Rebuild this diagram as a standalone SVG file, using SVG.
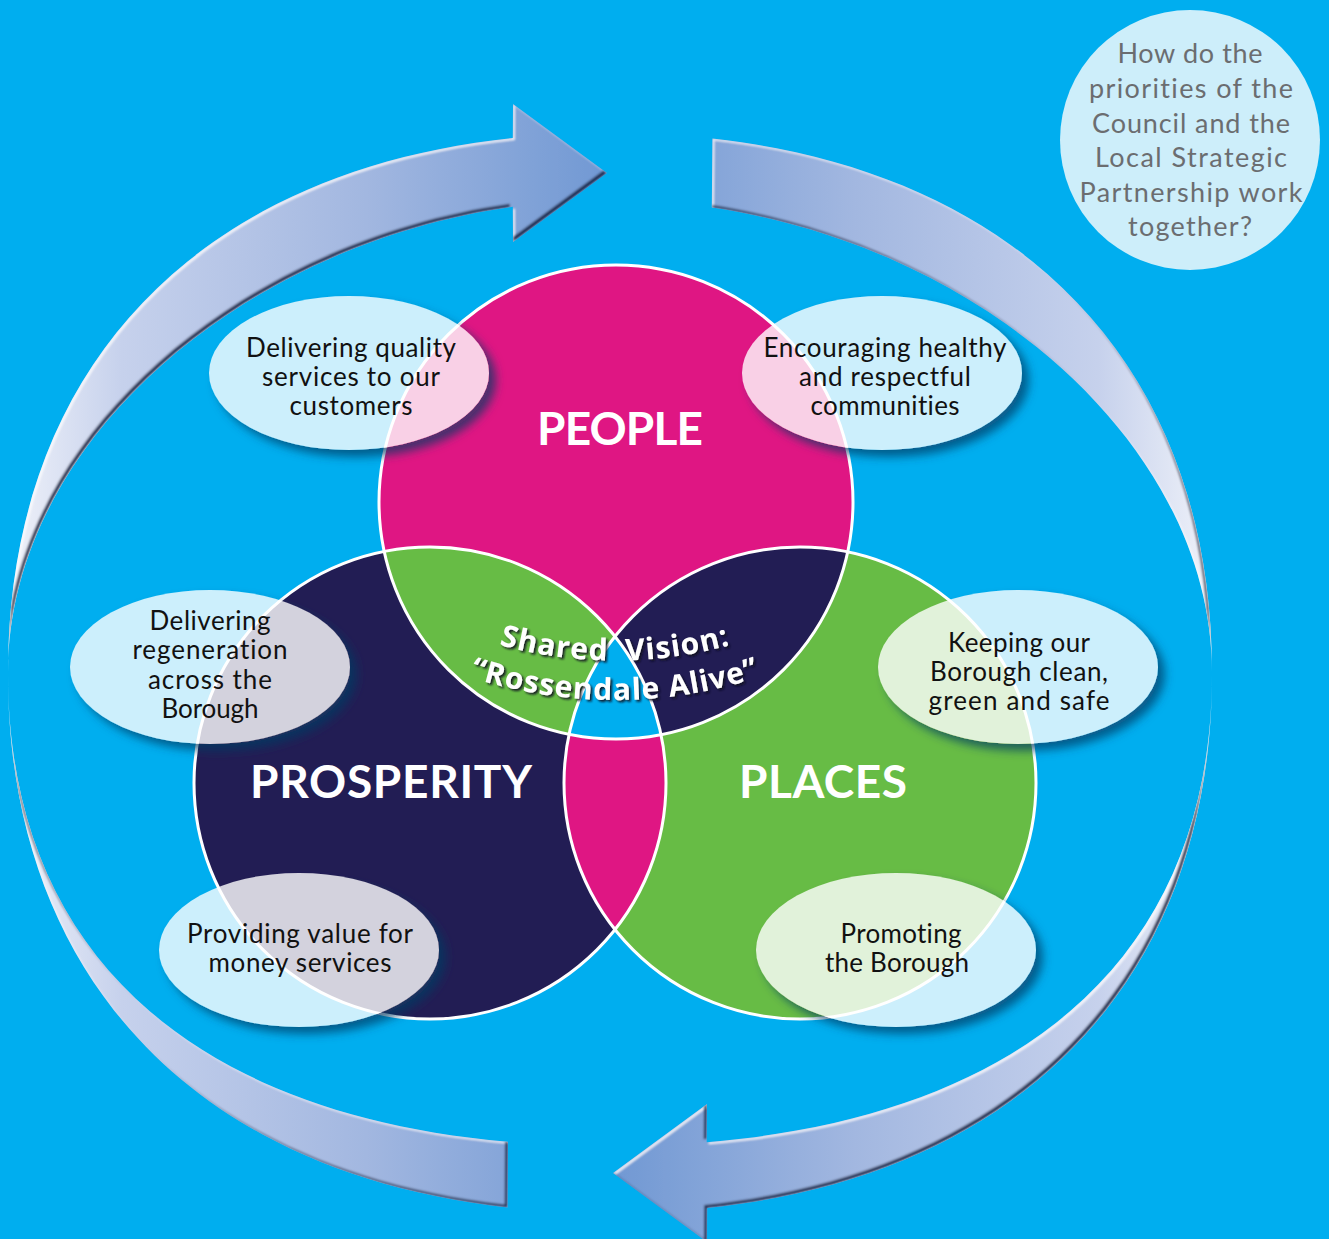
<svg xmlns="http://www.w3.org/2000/svg" width="1329" height="1239" viewBox="0 0 1329 1239">
  <style>
    .bg { fill: #00AEEF; }
    .outline { fill: none; stroke: #FFFFFF; stroke-width: 3; }
    .title { font-family: Lato, "Open Sans", sans-serif; font-weight: 700; font-size: 46px; fill: #FFFFFF; text-anchor: middle; }
    .aim { font-family: Lato, "Noto Sans", sans-serif; font-size: 26px; fill: #111111; text-anchor: middle; font-variant-ligatures: none; }
    .ask { font-family: Lato, "Noto Sans", sans-serif; font-size: 27px; fill: #6B6D70; text-anchor: middle; font-variant-ligatures: none; }
    .vision { font-family: "Open Sans", Lato, sans-serif; font-weight: 700; font-size: 30px; letter-spacing: 1px; }
    .bubble { fill: #FFFFFF; }
    .arrow { fill: url(#arrowFill); filter: url(#bevel); }
  </style>
  <defs>
    <linearGradient id="arrowFill" gradientUnits="userSpaceOnUse" x1="0" y1="0" x2="1220" y2="0">
      <stop offset="0" stop-color="#F2F4FA"/>
      <stop offset="0.1" stop-color="#C6D1EC"/>
      <stop offset="0.3" stop-color="#A2B7E0"/>
      <stop offset="0.5" stop-color="#7098D3"/>
      <stop offset="0.7" stop-color="#A2B7E0"/>
      <stop offset="0.9" stop-color="#C6D1EC"/>
      <stop offset="1" stop-color="#F2F4FA"/>
    </linearGradient>
    <!-- raised edge: light upper-left rim, dark lower-right rim -->
    <filter id="bevel" x="-5%" y="-5%" width="110%" height="110%">
      <feOffset in="SourceAlpha" dx="-3" dy="-3" result="up"/>
      <feComposite in="SourceAlpha" in2="up" operator="out" result="lowRim"/>
      <feGaussianBlur in="lowRim" stdDeviation="1" result="lowBlur"/>
      <feFlood flood-color="#1F2D52" result="dk"/>
      <feComposite in="dk" in2="lowBlur" operator="in" result="dark0"/>
      <feComposite in="dark0" in2="SourceAlpha" operator="in" result="dark"/>
      <feOffset in="SourceAlpha" dx="2" dy="2" result="down"/>
      <feComposite in="SourceAlpha" in2="down" operator="out" result="highRim"/>
      <feGaussianBlur in="highRim" stdDeviation="1" result="highBlur"/>
      <feFlood flood-color="#FFFFFF" flood-opacity="0.8" result="lt"/>
      <feComposite in="lt" in2="highBlur" operator="in" result="light0"/>
      <feComposite in="light0" in2="SourceAlpha" operator="in" result="light"/>
      <feMerge>
        <feMergeNode in="SourceGraphic"/>
        <feMergeNode in="light"/>
        <feMergeNode in="dark"/>
      </feMerge>
    </filter>
    <!-- translucent bubble with a shadow cast only outside its rim -->
    <filter id="bubbleShade" x="-20%" y="-25%" width="150%" height="160%">
      <feGaussianBlur in="SourceAlpha" stdDeviation="5" result="blur"/>
      <feOffset in="blur" dx="7" dy="7" result="off"/>
      <feComposite in="off" in2="SourceAlpha" operator="out" result="outside"/>
      <feFlood flood-color="#0A3B63" flood-opacity="0.7"/>
      <feComposite in2="outside" operator="in" result="shade"/>
      <feComponentTransfer in="SourceGraphic" result="veil">
        <feFuncA type="linear" slope="0.8"/>
      </feComponentTransfer>
      <feMerge>
        <feMergeNode in="shade"/>
        <feMergeNode in="veil"/>
      </feMerge>
    </filter>
    <filter id="textShade" x="-10%" y="-30%" width="120%" height="160%">
      <feGaussianBlur in="SourceAlpha" stdDeviation="0.8"/>
      <feOffset dx="2" dy="2" result="o"/>
      <feFlood flood-color="#101020" flood-opacity="0.9"/>
      <feComposite in2="o" operator="in" result="s"/>
      <feMerge><feMergeNode in="s"/><feMergeNode in="SourceGraphic"/></feMerge>
    </filter>
    <clipPath id="clipPeople"><circle cx="616" cy="502" r="237"/></clipPath>
    <clipPath id="clipProsperity"><circle cx="430" cy="783" r="236"/></clipPath>
    <path id="visionLine1" d="M 399 603 A 434 434 0 0 0 831 603"/>
    <path id="visionLine2" d="M 380 637 A 470 470 0 0 0 850 637"/>
  </defs>

  <rect class="bg" x="0" y="0" width="1329" height="1239"/>

  <!-- cycle arrows around the three priorities -->
  <g id="cycle-arrows">
    <path class="arrow" d="M 8 672 C 8 367.9 197.5 170.9 512.8 138 L 513 104 L 607 173 L 513 242 L 512.8 206.85 C 235.7 246 8 447.6 8 672 Z"/>
    <path class="arrow" d="M 712.4 138.5 C 1024.6 173.1 1212 369.5 1212 672 C 1212 448.8 986.9 248.3 711.8 207.5 Z"/>
    <path class="arrow" d="M 1212 674 C 1212 978.1 1022.5 1175.1 707.2 1208 L 707 1242 L 613 1173 L 707 1104 L 706.7 1142.15 C 1031.4 1115.4 1212 949.8 1212 674 Z"/>
    <path class="arrow" d="M 507.6 1207.5 C 195.4 1172.9 8 976.5 8 674 C 8 948.3 186.7 1113.6 508 1141.75 Z"/>
  </g>

  <!-- Venn of the three priorities -->
  <g id="venn">
    <g id="people">
      <circle cx="616" cy="502" r="237" fill="#DF1683"/>
    </g>
    <g id="prosperity">
      <circle cx="430" cy="783" r="236" fill="#221D54"/>
    </g>
    <g id="places">
      <circle cx="800" cy="783" r="236" fill="#67BC45"/>
    </g>
    <g id="overlaps">
      <circle cx="430" cy="783" r="236" fill="#67BC45" clip-path="url(#clipPeople)"/>
      <circle cx="800" cy="783" r="236" fill="#221D54" clip-path="url(#clipPeople)"/>
      <circle cx="800" cy="783" r="236" fill="#DF1683" clip-path="url(#clipProsperity)"/>
      <g clip-path="url(#clipProsperity)">
        <circle cx="800" cy="783" r="236" fill="#00AEEF" clip-path="url(#clipPeople)"/>
      </g>
    </g>
    <g id="outlines">
      <circle class="outline" cx="616" cy="502" r="237"/>
      <circle class="outline" cx="430" cy="783" r="236"/>
      <circle class="outline" cx="800" cy="783" r="236"/>
    </g>
    <text class="title" x="620" y="445" textLength="166" lengthAdjust="spacing">PEOPLE</text>
    <text class="title" x="391" y="798" textLength="282" lengthAdjust="spacing">PROSPERITY</text>
    <text class="title" x="823" y="798" textLength="168" lengthAdjust="spacing">PLACES</text>
  </g>

  <g id="shared-vision" class="vision" fill="#FFFFFF" filter="url(#textShade)">
    <text><textPath href="#visionLine1" startOffset="50%" text-anchor="middle">Shared&#160; Vision:</textPath></text>
    <text><textPath href="#visionLine2" startOffset="50%" text-anchor="middle">“Rossendale Alive”</textPath></text>
  </g>

  <!-- aims -->
  <g id="aim-quality">
    <ellipse class="bubble" filter="url(#bubbleShade)" cx="349" cy="373" rx="140" ry="77"/>
    <text class="aim" x="351" y="357" textLength="210">Delivering quality</text>
    <text class="aim" x="351" y="386" textLength="178">services to our</text>
    <text class="aim" x="351" y="415" textLength="123">customers</text>
  </g>
  <g id="aim-communities">
    <ellipse class="bubble" filter="url(#bubbleShade)" cx="882" cy="373" rx="140" ry="77"/>
    <text class="aim" x="885" y="357" textLength="243">Encouraging healthy</text>
    <text class="aim" x="885" y="386" textLength="172">and respectful</text>
    <text class="aim" x="885" y="415" textLength="149">communities</text>
  </g>
  <g id="aim-regeneration">
    <ellipse class="bubble" filter="url(#bubbleShade)" cx="210" cy="667" rx="140" ry="77"/>
    <text class="aim" x="210" y="630" textLength="121">Delivering</text>
    <text class="aim" x="210" y="659" textLength="155">regeneration</text>
    <text class="aim" x="210" y="689" textLength="124">across the</text>
    <text class="aim" x="210" y="718" textLength="97">Borough</text>
  </g>
  <g id="aim-clean">
    <ellipse class="bubble" filter="url(#bubbleShade)" cx="1018" cy="667" rx="140" ry="77"/>
    <text class="aim" x="1019" y="652" textLength="142">Keeping our</text>
    <text class="aim" x="1019" y="681" textLength="178">Borough clean,</text>
    <text class="aim" x="1019" y="710" textLength="181">green and safe</text>
  </g>
  <g id="aim-value">
    <ellipse class="bubble" filter="url(#bubbleShade)" cx="299" cy="950" rx="140" ry="77"/>
    <text class="aim" x="300" y="943" textLength="226">Providing value for</text>
    <text class="aim" x="300" y="972" textLength="183">money services</text>
  </g>
  <g id="aim-promoting">
    <ellipse class="bubble" filter="url(#bubbleShade)" cx="896" cy="950" rx="140" ry="77"/>
    <text class="aim" x="901" y="943" textLength="121">Promoting</text>
    <text class="aim" x="897" y="972" textLength="144">the Borough</text>
  </g>

  <g id="question">
    <circle cx="1190" cy="140" r="130" fill="#CDEEFA"/>
    <text class="ask" x="1190" y="63" textLength="145">How do the</text>
    <text class="ask" x="1191" y="98" textLength="204">priorities of the</text>
    <text class="ask" x="1191" y="133" textLength="198">Council and the</text>
    <text class="ask" x="1191" y="167" textLength="192">Local Strategic</text>
    <text class="ask" x="1191" y="202" textLength="223">Partnership work</text>
    <text class="ask" x="1190" y="236" textLength="124">together?</text>
  </g>
</svg>
